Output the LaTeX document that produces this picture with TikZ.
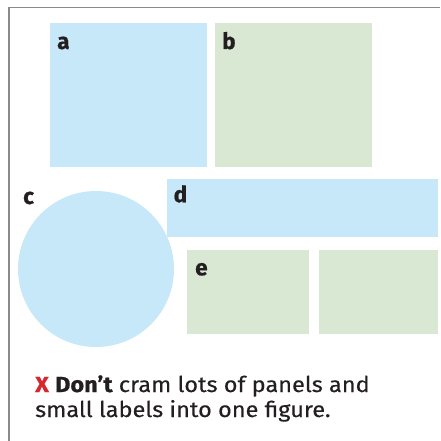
\documentclass[tikz,border=0pt]{standalone}
\usepackage{fontspec}
\setmainfont{Fira Sans}[FakeStretch=1.08,FakeBold=0.25]
\newfontfamily\heavyfont{Fira Sans}[BoldFeatures={FakeBold=0.7}]
\newfontfamily\heavywide{Fira Sans}[FakeStretch=1.08,BoldFeatures={FakeBold=0.7}]
\definecolor{panelblue}{HTML}{C7E8F8}
\definecolor{panelgreen}{HTML}{D8E8D3}
\definecolor{framegray}{HTML}{8A8A8A}
\definecolor{crossred}{HTML}{D7262C}
\definecolor{inkdark}{HTML}{231F20}
\begin{document}
\begin{tikzpicture}[x=1pt,y=-1pt,
  bluepanel/.style={fill=panelblue,draw=none},
  greenpanel/.style={fill=panelgreen,draw=none},
  panellabel/.style={anchor=base west,inner sep=0pt,text=inkdark,font=\heavyfont\fontsize{22.5}{22.5}\selectfont\bfseries},
  bodytext/.style={anchor=base west,inner sep=0pt,text=inkdark,font=\fontsize{21.8}{25}\selectfont}]
\useasboundingbox (0,0) rectangle (440,441);
\fill[white] (0,0) rectangle (440,441);
\draw[framegray,line width=1.6pt] (9,441) -- (9,7.5) -- (440,7.5);
% panels
\fill[bluepanel] (50,23) rectangle (207,166.5);
\fill[greenpanel] (215,23) rectangle (372,166.5);
\fill[bluepanel] (96,269) circle (78);
\fill[bluepanel] (167,179) rectangle (438,236.5);
\fill[greenpanel] (187,250) rectangle (309,333.5);
\fill[greenpanel] (319,250) rectangle (438,333.5);
% labels
\node[panellabel] (la) at (57,49) {a};
\node[panellabel] (lb) at (222,49) {b};
\node[panellabel] (lc) at (23,204) {c};
\node[panellabel] (ld) at (173.5,202.3) {d};
\node[panellabel] (le) at (195,275.3) {e};
% caption
\node[bodytext] (line1) at (35,392) {{\heavywide\bfseries\color{crossred}X} {\heavywide\bfseries Don’t} cram lots of panels and};
\node[bodytext] (line2) at (35,417) {small labels into one figure.};
\end{tikzpicture}
\end{document}
